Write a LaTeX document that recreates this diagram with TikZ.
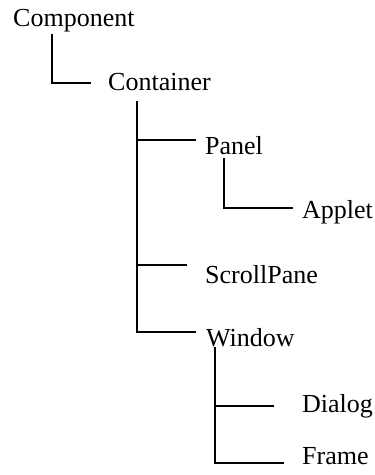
\documentclass[tikz,border=0pt]{standalone}
\usepackage{fontspec}
\setmainfont{Liberation Serif}
\usetikzlibrary{calc}
\begin{document}
\begin{tikzpicture}[x=1pt,y=-1pt,
  lbl/.style={anchor=base west,inner sep=0pt,font=\fontsize{26}{30}\selectfont},
  conn/.style={line width=1.3pt,line cap=rect}]
\useasboundingbox (0,0) rectangle (375,475);
\node[lbl] (comp)   at (13,26.5) {Component};
\node[lbl] (cont)   at (108,90)  {Container};
\node[lbl] (panel)  at (205,154) {Panel};
\node[lbl] (applet) at (302,218) {Applet};
\node[lbl] (scroll) at (205,283) {ScrollPane};
\node[lbl] (window) at (206,346) {Window};
\node[lbl] (dialog) at (302,412) {Dialog};
\node[lbl] (frame)  at (302,464) {Frame};
\draw[conn] ($(comp.base west)+(39,8.5)$) |- ($(cont.base west)+(-18,-7)$);
\draw[conn] ($(cont.base west)+(29,12)$) |- ($(panel.base west)+(-10,-14)$);
\draw[conn] ($(cont.base west)+(29,12)$) |- ($(scroll.base west)+(-19,-18)$);
\draw[conn] ($(cont.base west)+(29,12)$) |- ($(window.base west)+(-11,-14)$);
\draw[conn] ($(panel.base west)+(19,5)$) |- ($(applet.base west)+(-10,-10)$);
\draw[conn] ($(window.base west)+(9,2)$) |- ($(dialog.base west)+(-29,-6)$);
\draw[conn] ($(window.base west)+(9,2)$) |- ($(frame.base west)+(-19,-1)$);
\end{tikzpicture}
\end{document}
